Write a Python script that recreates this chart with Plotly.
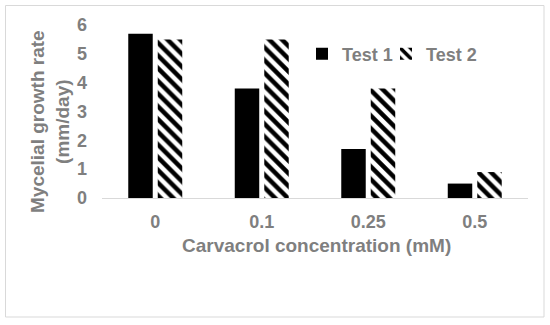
import plotly.graph_objects as go

categories = ["0", "0.1", "0.25", "0.5"]
test1 = [5.7, 3.8, 1.7, 0.5]
test2 = [5.5, 5.5, 3.8, 0.9]
y_ticks = [0, 1, 2, 3, 4, 5, 6]

GRAY = "#7f7f7f"
FONT = "Liberation Sans, Arial, sans-serif"

W, H = 550, 325
L, R, T, B = 102, 22, 25, 127
pw, ph = W - L - R, H - T - B

def px_x(p):
    return (p - L) / pw

def px_y(p):
    return (H - B - p) / ph

legend_font = dict(size=18, color=GRAY, family=FONT, weight="bold")

fig = go.Figure()
fig.add_trace(go.Bar(
    x=categories, y=test1, name="Test 1", legend="legend",
    marker=dict(color="black", line=dict(width=0)),
))
fig.add_trace(go.Bar(
    x=categories, y=test2, name="Test 2", legend="legend2",
    marker=dict(color="white", line=dict(width=0),
                pattern=dict(shape="\\", fgcolor="black", bgcolor="white",
                             size=9, solidity=0.5, fillmode="replace")),
))

fig.update_layout(
    width=W, height=H,
    margin=dict(l=L, r=R, t=T, b=B, autoexpand=False),
    paper_bgcolor="white", plot_bgcolor="white",
    barmode="group", bargap=0.446, bargroupgap=0.17,
    font=dict(family=FONT, color=GRAY, size=18, weight="bold"),
    showlegend=True,
    legend=dict(orientation="h", x=px_x(302), y=px_y(54), xanchor="left", yanchor="middle",
                font=legend_font, bgcolor="rgba(0,0,0,0)", itemwidth=30),
    legend2=dict(orientation="h", x=px_x(386), y=px_y(54), xanchor="left", yanchor="middle",
                 font=legend_font, bgcolor="rgba(0,0,0,0)", itemwidth=30),
    xaxis=dict(type="category", showgrid=False, zeroline=False,
               showline=True, linecolor="#d9d9d9", linewidth=1,
               ticks="", ticklabelstandoff=7,
               tickfont=dict(size=18, color=GRAY, family=FONT, weight="bold")),
    yaxis=dict(range=[0, 6], tickvals=y_ticks, showgrid=False, zeroline=False,
               showline=False, ticks="", ticklabelstandoff=14,
               tickfont=dict(size=18, color=GRAY, family=FONT, weight="bold")),
    annotations=[
        dict(text="Mycelial growth rate<br>(mm/day)", xref="paper", yref="paper",
             x=px_x(50), y=px_y(122), xanchor="center", yanchor="middle",
             textangle=-90, showarrow=False,
             font=dict(size=19, color=GRAY, family=FONT, weight="bold")),
        dict(text="Carvacrol concentration (mM)", xref="paper", yref="paper",
             x=px_x(316), y=px_y(246), xanchor="center", yanchor="middle",
             showarrow=False,
             font=dict(size=19, color=GRAY, family=FONT, weight="bold")),
    ],
    shapes=[
        dict(type="rect", xref="paper", yref="paper",
             x0=px_x(5.5), x1=px_x(544), y0=px_y(317), y1=px_y(5.5),
             line=dict(color="#d9d9d9", width=1), fillcolor="rgba(0,0,0,0)", layer="below"),
    ],
)

fig.write_html("out.html", config={"displayModeBar": False},
               post_script="document.body.style.margin='0';document.body.style.padding='0';")
